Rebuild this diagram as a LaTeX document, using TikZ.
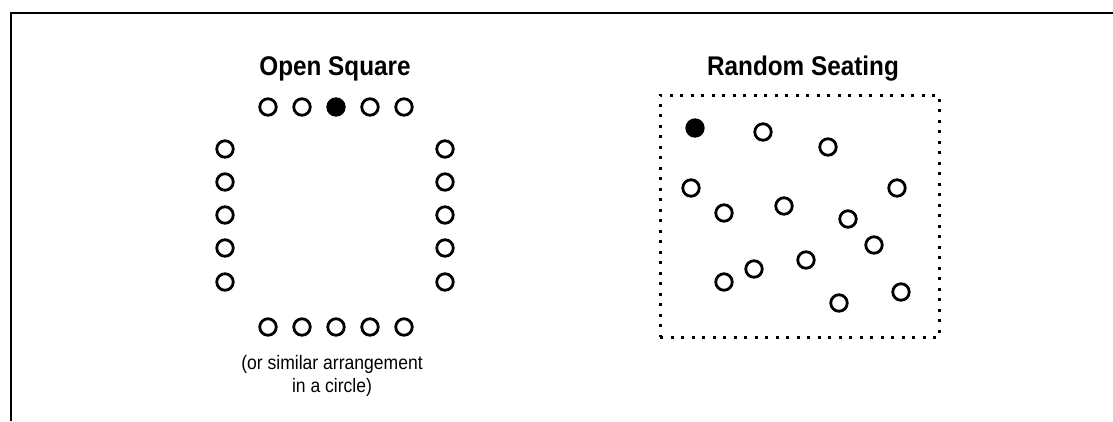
\documentclass[tikz,border=0pt]{standalone}
\usepackage{fontspec}
\setmainfont[FakeStretch=0.9]{Liberation Sans}
\usetikzlibrary{positioning}
\begin{document}
\begin{tikzpicture}[x=1pt, y=-1pt, font=\fontsize{19.5}{23}\selectfont]
	\tikzset{seat/.style={circle, draw, line width=2.8pt, minimum size=16.5pt, inner sep=0pt},
		host/.style={seat, fill=black},
		title/.style={font=\bfseries\fontsize{27}{30}\selectfont, anchor=base}}
	\useasboundingbox (0,0) rectangle (1113,421);
	\draw[line width=2.7pt] (11,421) -- (11,13) -- (1113,13);
	% open square
	\node[title] (sqtitle) at (335,75) {Open Square};
	\foreach \x/\s [count=\i] in {268/seat,302/seat,336/host,370/seat,404/seat} {
		\node[\s] (top\i) at (\x,107) {};
		\node[seat] (bot\i) at (\x,327) {};
	}
	\foreach \y [count=\i] in {149,182,215,248,282} {
		\node[seat] (left\i) at (225,\y) {};
		\node[seat] (right\i) at (445,\y) {};
	}
	\node[align=center] (sqnote) at (332,376) {(or similar arrangement\\in a circle)};
	% random seating
	\node[title] (rndtitle) at (803,75) {Random Seating};
	\node[draw, line width=3pt, dash pattern=on 3pt off 7.5pt, minimum width=279pt, minimum height=242pt] (room) at (799.5,216) {};
	\node[host] (r0) at (695,128) {};
	\foreach \x/\y [count=\i] in {763/132,828/147,691/188,897/188,784/206,724/213,848/219,874/245,806/260,754/269,724/282,901/292,839/303}
		\node[seat] (r\i) at (\x,\y) {};
\end{tikzpicture}
\end{document}
